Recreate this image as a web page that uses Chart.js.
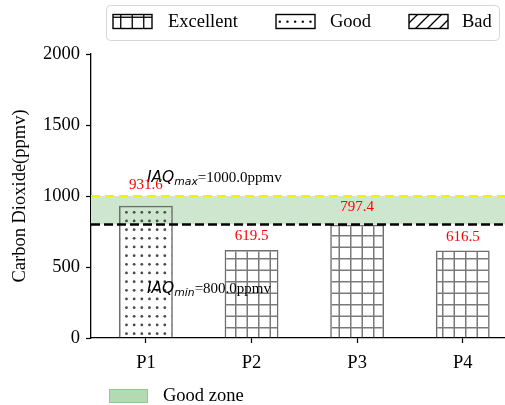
<!DOCTYPE html>
<html>
<head>
<meta charset="utf-8">
<script src="https://cdn.jsdelivr.net/npm/chart.js@4.4.0/dist/chart.umd.min.js"></script>
<style>
  html, body { margin: 0; padding: 0; background: #ffffff; }
  #wrap { width: 505px; height: 405px; position: relative; }
</style>
</head>
<body>
<div id="wrap"><canvas id="c" width="505" height="405"></canvas></div>
<script>
// CO2 concentration per measuring point
const categories = ['P1', 'P2', 'P3', 'P4'];
const co2Values = [931.6, 619.5, 797.4, 616.5];
const ratings = ['Good', 'Excellent', 'Excellent', 'Excellent'];
const legendRatings = ['Excellent', 'Good', 'Bad'];
const yTicks = [0, 500, 1000, 1500, 2000];
const iaqMax = 1000.0;
const iaqMin = 800.0;

const SERIF = '"Liberation Serif", "Times New Roman", serif';
const MATH = '"DejaVu Sans", sans-serif';

// ---- hatch patterns -------------------------------------------------------
function makeTile(w, h, draw) {
  const t = document.createElement('canvas');
  t.width = w; t.height = h;
  const g = t.getContext('2d');
  draw(g, w, h);
  return g.createPattern(t, 'repeat');
}
function gridHatch(color, lw) {
  return makeTile(23, 23, (g) => {
    g.strokeStyle = color; g.lineWidth = lw;
    [5.75, 17.25].forEach(p => {
      g.beginPath(); g.moveTo(p, 0); g.lineTo(p, 23); g.stroke();
      g.beginPath(); g.moveTo(0, p); g.lineTo(23, p); g.stroke();
    });
  });
}
function dotHatch(color, r) {
  return makeTile(23, 26, (g) => {
    g.fillStyle = color;
    for (let i = 0; i < 3; i++) for (let j = 0; j < 3; j++) {
      g.beginPath(); g.arc(3.8 + i * 7.67, 4.3 + j * 8.67, r, 0, Math.PI * 2); g.fill();
    }
  });
}
function slashHatch(color, lw) {
  return makeTile(12, 12, (g) => {
    g.strokeStyle = color; g.lineWidth = lw;
    g.beginPath(); g.moveTo(-2, 14); g.lineTo(14, -2); g.stroke();
    g.beginPath(); g.moveTo(-2, 2); g.lineTo(2, -2); g.stroke();
    g.beginPath(); g.moveTo(10, 14); g.lineTo(14, 10); g.stroke();
  });
}
const barHatch = {
  Excellent: gridHatch('#7a7a7a', 1.5),
  Good: dotHatch('#4a4a4a', 1.4),
  Bad: slashHatch('#7a7a7a', 1.2)
};
const legendHatch = {
  Excellent: gridHatch('#000000', 1.3),
  Good: dotHatch('#000000', 1.2),
  Bad: slashHatch('#000000', 1.3)
};

// ---- drawing helpers ---------------------------------------------------------
function drawIAQ(ctx, x, y, sub, rest) {
  ctx.save();
  ctx.fillStyle = '#000';
  ctx.textAlign = 'left';
  ctx.textBaseline = 'alphabetic';
  ctx.font = 'italic 15.5px ' + MATH;
  ctx.fillText('IAQ', x, y);
  x += ctx.measureText('IAQ').width;
  ctx.font = 'italic 10.8px ' + MATH;
  ctx.fillText(sub, x, y + 3.5);
  x += ctx.measureText(sub).width;
  ctx.font = '15px ' + SERIF;
  ctx.fillText(rest, x, y);
  ctx.restore();
}
function roundRect(ctx, x, y, w, h, r) {
  ctx.beginPath();
  ctx.moveTo(x + r, y);
  ctx.arcTo(x + w, y, x + w, y + h, r);
  ctx.arcTo(x + w, y + h, x, y + h, r);
  ctx.arcTo(x, y + h, x, y, r);
  ctx.arcTo(x, y, x + w, y, r);
  ctx.closePath();
}

// Comfort zone band between the two IAQ limits, drawn beneath the bars
const zoneBand = {
  id: 'zoneBand',
  beforeDatasetsDraw(chart) {
    const { ctx, chartArea: a, scales: { y } } = chart;
    const top = y.getPixelForValue(iaqMax), bot = y.getPixelForValue(iaqMin);
    ctx.save();
    ctx.fillStyle = '#cde6cd';
    ctx.fillRect(a.left, top, a.right - a.left, bot - top);
    ctx.restore();
  },
  afterDatasetsDraw(chart) {
    const { ctx, chartArea: a, scales: { x, y } } = chart;
    ctx.save();
    // limit lines
    ctx.lineCap = 'butt';
    ctx.strokeStyle = '#f2f200';
    ctx.lineWidth = 2;
    ctx.setLineDash([9, 5]);
    let py = y.getPixelForValue(iaqMax);
    ctx.beginPath(); ctx.moveTo(a.left, py); ctx.lineTo(a.right, py); ctx.stroke();
    ctx.strokeStyle = '#000000';
    ctx.lineWidth = 2.5;
    ctx.setLineDash([9, 4]);
    py = y.getPixelForValue(iaqMin);
    ctx.beginPath(); ctx.moveTo(a.left, py); ctx.lineTo(a.right, py); ctx.stroke();
    ctx.setLineDash([]);

    // limit annotations
    const ax = x.getPixelForValue(0) + 1;
    drawIAQ(ctx, ax, y.getPixelForValue(iaqMax * 1.1), 'max', '=' + iaqMax.toFixed(1) + 'ppmv');
    drawIAQ(ctx, ax, y.getPixelForValue(320), 'min', '=' + iaqMin.toFixed(1) + 'ppmv');

    // value labels
    ctx.fillStyle = '#ff0000';
    ctx.font = '15px ' + SERIF;
    ctx.textAlign = 'center';
    ctx.textBaseline = 'middle';
    co2Values.forEach((v, i) => {
      ctx.fillText(v.toFixed(1), x.getPixelForValue(i), y.getPixelForValue(v * 1.155));
    });
    ctx.restore();
  },
  afterDraw(chart) {
    const { ctx } = chart;
    ctx.save();
    // rating legend
    roundRect(ctx, 106.5, 5.5, 393, 35, 4);
    ctx.fillStyle = 'rgba(255,255,255,0.8)';
    ctx.fill();
    ctx.strokeStyle = '#d6d6d6';
    ctx.lineWidth = 1;
    ctx.stroke();
    const items = [
      { x: 113, tx: 168 },
      { x: 276, tx: 330 },
      { x: 409, tx: 462 }
    ];
    ctx.font = '18.5px ' + SERIF;
    ctx.textBaseline = 'middle';
    ctx.textAlign = 'left';
    legendRatings.forEach((r, i) => {
      const it = items[i];
      ctx.fillStyle = '#fff';
      ctx.fillRect(it.x, 14.5, 39, 14);
      ctx.fillStyle = legendHatch[r];
      ctx.fillRect(it.x, 14.5, 39, 14);
      ctx.strokeStyle = '#000';
      ctx.lineWidth = 1.4;
      ctx.strokeRect(it.x, 14.5, 39, 14);
      ctx.fillStyle = '#000';
      ctx.fillText(r, it.tx, 22.5);
    });
    // zone legend
    ctx.fillStyle = '#b3dbb3';
    ctx.fillRect(109.5, 389.5, 38, 13);
    ctx.strokeStyle = '#8fcc8f';
    ctx.lineWidth = 1;
    ctx.strokeRect(109.5, 389.5, 38, 13);
    ctx.fillStyle = '#000';
    ctx.fillText('Good zone', 163, 396.5);
    ctx.restore();
  }
};

new Chart(document.getElementById('c'), {
  type: 'bar',
  data: {
    datasets: [{
      label: 'CO2',
      data: co2Values.map((v, i) => ({ x: i, y: v })),
      backgroundColor: ratings.map(r => barHatch[r]),
      borderColor: '#6e6e6e',
      borderWidth: 1.5,
      barPercentage: 0.51,
      categoryPercentage: 1.0
    }]
  },
  options: {
    responsive: false,
    animation: false,
    devicePixelRatio: 1,
    layout: { padding: { top: 54, right: 0, left: 0, bottom: 0 } },
    plugins: { legend: { display: false }, tooltip: { enabled: false }, title: { display: false } },
    scales: {
      x: {
        type: 'linear',
        offset: false,
        min: -0.52,
        max: 3.4,
        afterBuildTicks: (s) => { s.ticks = categories.map((_, i) => ({ value: i })); },
        afterFit: (s) => { s.height = 67; },
        ticks: {
          callback: (v) => categories[v],
          color: '#000',
          font: { family: SERIF, size: 18.5 },
          padding: 9,
          maxRotation: 0,
          autoSkip: false
        },
        grid: { offset: false, drawOnChartArea: false, drawTicks: true, tickLength: 5, tickColor: '#000', tickWidth: 1.2 },
        border: { display: true, color: '#000', width: 1.3 }
      },
      y: {
        min: 0,
        max: 2000,
        afterBuildTicks: (s) => { s.ticks = yTicks.map(v => ({ value: v })); },
        afterFit: (s) => { s.width = 91; },
        ticks: {
          callback: (v) => String(v),
          color: '#000',
          font: { family: SERIF, size: 18.5 },
          padding: 6
        },
        title: {
          display: true,
          text: 'Carbon Dioxide(ppmv)',
          color: '#000',
          font: { family: SERIF, size: 18.5 },
          padding: { top: 9, bottom: 0 }
        },
        grid: { drawOnChartArea: false, drawTicks: true, tickLength: 5, tickColor: '#000', tickWidth: 1.2 },
        border: { display: true, color: '#000', width: 1.3 }
      }
    }
  },
  plugins: [zoneBand]
});
</script>
</body>
</html>
